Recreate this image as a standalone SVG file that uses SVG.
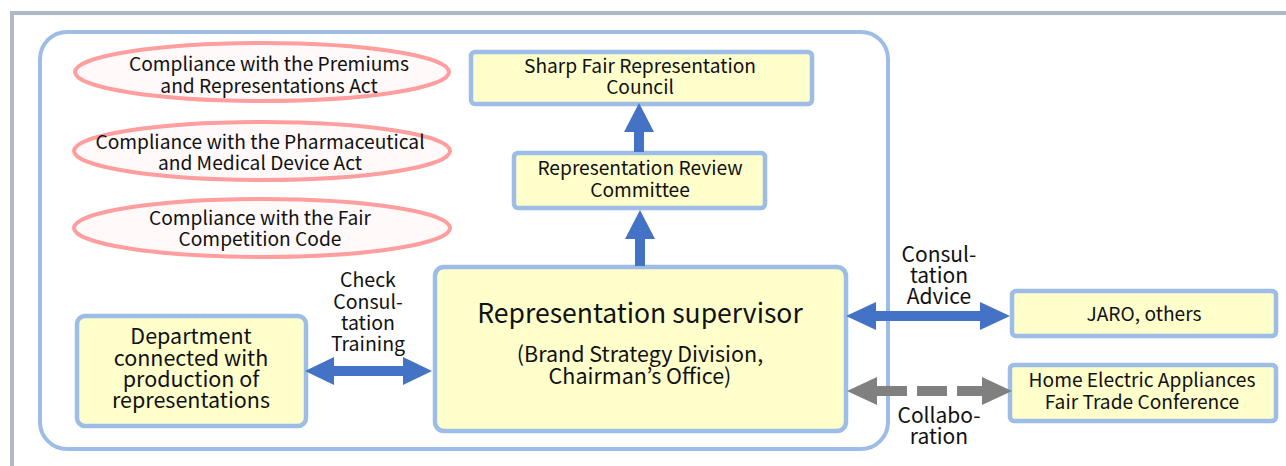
<svg xmlns="http://www.w3.org/2000/svg" width="1286" height="466" viewBox="0 0 1286 466">
<style>
text{font-family:"Noto Sans CJK JP","Noto Sans",sans-serif;fill:#111;text-anchor:middle}
.t18{font-size:19.2px}
.t19{font-size:19.5px}
.t20{font-size:21.5px}
.t21{font-size:21px}
.box{fill:#ffffcc;stroke:#9dbde6;stroke-width:4.5}
.ell{fill:#fff9f9;stroke:#ff9e9e;stroke-width:4}
.blue{fill:#4472c4}
.gray{fill:#808080}
</style>
<rect width="1286" height="466" fill="#fff"/>
<path d="M12 466 V13 H1286" fill="none" stroke="#aeb8c9" stroke-width="4"/>
<rect x="40" y="32" width="848" height="417" rx="27" fill="none" stroke="#9dbde6" stroke-width="4"/>

<g id="ell1"><ellipse class="ell" cx="262" cy="72" rx="187" ry="29"/>
<text class="t18" x="269" y="71">Compliance with the Premiums</text>
<text class="t18" x="269" y="93">and Representations Act</text></g>
<g id="ell2"><ellipse class="ell" cx="262" cy="151" rx="188" ry="29"/>
<text class="t18" x="260" y="149">Compliance with the Pharmaceutical</text>
<text class="t18" x="260" y="170">and Medical Device Act</text></g>
<g id="ell3"><ellipse class="ell" cx="262" cy="228" rx="188" ry="29"/>
<text class="t18" x="260" y="225">Compliance with the Fair</text>
<text class="t18" x="260" y="246">Competition Code</text></g>

<g id="council"><rect class="box" x="471" y="52" width="341" height="52" rx="4"/>
<text class="t18" x="640" y="73">Sharp Fair Representation</text>
<text class="t18" x="640" y="94">Council</text></g>
<g id="committee"><rect class="box" x="514" y="153" width="251" height="55" rx="4"/>
<text class="t18" x="640" y="175">Representation Review</text>
<text class="t18" x="640" y="197">Committee</text></g>
<g id="supervisor"><rect class="box" x="435" y="267" width="411" height="164" rx="9"/>
<text x="640" y="323" style="font-size:26.5px">Representation supervisor</text>
<text class="t20" x="640" y="362">(Brand Strategy Division,</text>
<text class="t20" x="640" y="384">Chairman’s Office)</text></g>
<g id="department"><rect class="box" x="77" y="316" width="229" height="110" rx="8"/>
<text class="t20" x="191" y="344">Department</text>
<text class="t20" x="191" y="366">connected with</text>
<text class="t20" x="191" y="387">production of</text>
<text class="t20" x="191" y="408">representations</text></g>
<g id="jaro"><rect class="box" x="1012" y="291" width="264" height="45" rx="4"/>
<text class="t18" x="1144" y="321">JARO, others</text></g>
<g id="home"><rect class="box" x="1010" y="365" width="266" height="56" rx="4"/>
<text class="t18" x="1142" y="387">Home Electric Appliances</text>
<text class="t18" x="1142" y="409">Fair Trade Conference</text></g>

<g id="connectors">
<polygon class="blue" points="639,103 654,132 644,132 644,152 634,152 634,132 624,132"/>
<polygon class="blue" points="640,210 655,239 645,239 645,266 635,266 635,239 625,239"/>
<polygon class="blue" points="305,371 334,357 334,366 403,366 403,357 432,371 403,385 403,376 334,376 334,385"/>
<polygon class="blue" points="846,316 876,302 876,311 980,311 980,302 1010,316 980,330 980,321 876,321 876,330"/>
<line x1="877" y1="391" x2="982" y2="391" stroke="#808080" stroke-width="10" stroke-dasharray="30 10"/>
<polygon class="gray" points="847,391 877,377 877,405"/>
<polygon class="gray" points="1012,391 982,377 982,405"/>
<g class="t19">
<text x="368" y="287">Check</text>
<text x="368" y="309">Consul-</text>
<text x="368" y="330">tation</text>
<text x="368" y="351">Training</text>
</g>
<g class="t21">
<text x="939" y="262">Consul-</text>
<text x="939" y="283">tation</text>
<text x="939" y="304">Advice</text>
<text x="939" y="423">Collabo-</text>
<text x="939" y="444">ration</text>
</g>
</g>
</svg>
